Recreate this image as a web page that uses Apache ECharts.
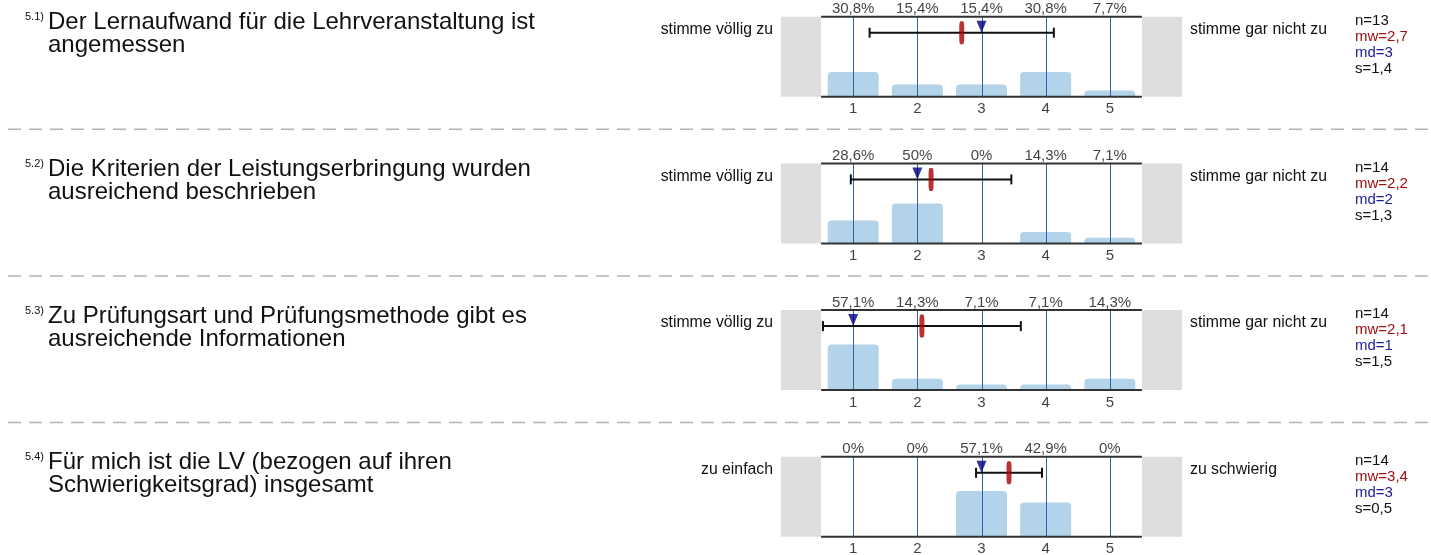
<!DOCTYPE html>
<html>
<head>
<meta charset="utf-8">
<script src="https://cdn.jsdelivr.net/npm/echarts@6/dist/echarts.min.js"></script>
<style>html,body{margin:0;padding:0;background:#fff}#c{width:1431px;height:555px}</style>
</head>
<body>
<div id="c"></div>
<script>
const categories = [1, 2, 3, 4, 5];
const questionNums = ['5.1)', '5.2)', '5.3)', '5.4)'];
const questionTexts = [
  'Der Lernaufwand für die Lehrveranstaltung ist\nangemessen',
  'Die Kriterien der Leistungserbringung wurden\nausreichend beschrieben',
  'Zu Prüfungsart und Prüfungsmethode gibt es\nausreichende Informationen',
  'Für mich ist die LV (bezogen auf ihren\nSchwierigkeitsgrad) insgesamt'
];
const leftLabels = ['stimme völlig zu', 'stimme völlig zu', 'stimme völlig zu', 'zu einfach'];
const rightLabels = ['stimme gar nicht zu', 'stimme gar nicht zu', 'stimme gar nicht zu', 'zu schwierig'];
const pct1 = [30.8, 15.4, 15.4, 30.8, 7.7];
const pct2 = [28.6, 50, 0, 14.3, 7.1];
const pct3 = [57.1, 14.3, 7.1, 7.1, 14.3];
const pct4 = [0, 0, 57.1, 42.9, 0];
const pctRows = [pct1, pct2, pct3, pct4];
const nVals = [13, 14, 14, 14];
const meanVals = [2.692, 2.214, 2.071, 3.429];
const mdVals = [3, 2, 1, 3];
const sdVals = [1.436, 1.251, 1.542, 0.514];

const FONT = '"Liberation Sans", Arial, Helvetica, sans-serif';
const ROW_TOP0 = 16.7, ROW_STEP = 146.7, ROW_H = 80;
const GRID_LEFT = 781, GRID_W = 401;
const X_MIN = -0.125, X_MAX = 6.125, P_MIN = 0.5, P_MAX = 5.5;
const ERR_Y = 80;

function fmt(v, d) {
  if (Number.isInteger(v)) return String(v);
  return v.toFixed(d).replace('.', ',');
}

const grids = [], xAxes = [], yAxes = [], series = [], graphics = [];

for (let r = 0; r < 4; r++) {
  const top = ROW_TOP0 + r * ROW_STEP;
  grids.push({ left: GRID_LEFT, top: top, width: GRID_W, height: ROW_H, show: false });
  xAxes.push({ type: 'value', gridIndex: r, min: X_MIN, max: X_MAX, show: false,
    splitLine: { show: false }, axisLine: { show: false }, axisTick: { show: false }, axisLabel: { show: false } });
  yAxes.push({ type: 'value', gridIndex: r, min: 0, max: 100, show: false,
    splitLine: { show: false }, axisLine: { show: false }, axisTick: { show: false }, axisLabel: { show: false } });

  // grey side boxes
  series.push({
    type: 'custom', xAxisIndex: r, yAxisIndex: r, silent: true, z: 1,
    data: [[X_MIN, P_MIN], [P_MAX, X_MAX]],
    renderItem: (params, api) => {
      const a = api.coord([api.value(0), 100]), b = api.coord([api.value(1), 0]);
      return { type: 'rect', shape: { x: a[0], y: a[1], width: b[0] - a[0], height: b[1] - a[1] },
        style: { fill: '#dedede' } };
    }
  });

  // bars
  series.push({
    type: 'bar', xAxisIndex: r, yAxisIndex: r, barWidth: 51, z: 2,
    itemStyle: { color: '#b3d3ea', borderRadius: [4, 4, 0, 0] },
    data: categories.map((c, i) => [c, pctRows[r][i]]),
    silent: true
  });

  // vertical category lines
  series.push({
    type: 'custom', xAxisIndex: r, yAxisIndex: r, silent: true, z: 3,
    data: categories.map(c => [c]),
    renderItem: (params, api) => {
      const a = api.coord([api.value(0), 100]), b = api.coord([api.value(0), 0]);
      const x = Math.round(a[0]) + 0.5;
      return { type: 'line', shape: { x1: x, y1: a[1], x2: x, y2: b[1] },
        style: { stroke: '#2f62a0', lineWidth: 1 } };
    }
  });

  // frame lines top & bottom
  series.push({
    type: 'custom', xAxisIndex: r, yAxisIndex: r, silent: true, z: 4,
    data: [[100], [0]],
    renderItem: (params, api) => {
      const a = api.coord([P_MIN, api.value(0)]), b = api.coord([P_MAX, api.value(0)]);
      return { type: 'line', shape: { x1: a[0], y1: a[1], x2: b[0], y2: b[1] },
        style: { stroke: '#333', lineWidth: 2 } };
    }
  });

  // percentage labels at top
  series.push({
    type: 'scatter', xAxisIndex: r, yAxisIndex: r, symbolSize: 0, silent: true,
    data: categories.map((c, i) => [c, 100, pctRows[r][i]]),
    label: {
      show: true, position: 'top', distance: 0, color: '#111', fontSize: 15, fontFamily: FONT,
      formatter: p => fmt(p.data[2], 1) + '%'
    }
  });
  // category tick labels at bottom
  series.push({
    type: 'scatter', xAxisIndex: r, yAxisIndex: r, symbolSize: 0, silent: true,
    data: categories.map(c => [c, 0]),
    label: {
      show: true, position: 'bottom', distance: 5, color: '#111', fontSize: 15, fontFamily: FONT,
      formatter: p => String(p.data[0])
    }
  });

  // error bar (mean ± s)
  series.push({
    type: 'custom', xAxisIndex: r, yAxisIndex: r, silent: true, z: 5,
    data: [[meanVals[r], sdVals[r]]],
    renderItem: (params, api) => {
      const m = api.value(0), s = api.value(1);
      const lo = Math.max(m - s, P_MIN), hi = Math.min(m + s, P_MAX);
      const a = api.coord([lo, ERR_Y]), b = api.coord([hi, ERR_Y]);
      const st = { stroke: '#111', lineWidth: 2 };
      return {
        type: 'group', children: [
          { type: 'line', shape: { x1: a[0], y1: a[1], x2: b[0], y2: b[1] }, style: st },
          { type: 'line', shape: { x1: a[0], y1: a[1] - 5, x2: a[0], y2: a[1] + 5 }, style: st },
          { type: 'line', shape: { x1: b[0], y1: b[1] - 5, x2: b[0], y2: b[1] + 5 }, style: st }
        ]
      };
    }
  });
  // median triangle
  series.push({
    type: 'scatter', xAxisIndex: r, yAxisIndex: r, silent: true, z: 6,
    symbol: 'path://M0,0 L10,0 L5,12 Z', symbolSize: [10, 12], symbolOffset: [0, -6],
    itemStyle: { color: '#000080' },
    data: [[mdVals[r], ERR_Y]]
  });
  // mean marker
  series.push({
    type: 'scatter', xAxisIndex: r, yAxisIndex: r, silent: true, z: 7,
    symbol: 'roundRect', symbolSize: [5, 23],
    itemStyle: { color: '#a80000' },
    data: [[meanVals[r], ERR_Y]]
  });

  // texts
  graphics.push({
    type: 'text', left: 25, top: top - 5,
    style: { text: questionNums[r], font: '11px ' + FONT, fill: '#111' }
  });
  graphics.push({
    type: 'text', left: 48, top: top - 6,
    style: { text: questionTexts[r], font: '24px ' + FONT, fill: '#111', lineHeight: 23 }
  });
  graphics.push({
    type: 'text', x: 773, y: top + 13,
    style: { text: leftLabels[r], font: '15.8px ' + FONT, fill: '#111', textAlign: 'right', textVerticalAlign: 'middle' }
  });
  graphics.push({
    type: 'text', x: 1190, y: top + 13,
    style: { text: rightLabels[r], font: '15.8px ' + FONT, fill: '#111', textAlign: 'left', textVerticalAlign: 'middle' }
  });
  graphics.push({
    type: 'text', left: 1355, top: top - 4,
    style: {
      text: '{n|n=' + nVals[r] + '}\n{m|mw=' + fmt(meanVals[r], 1) + '}\n{d|md=' + mdVals[r] + '}\n{s|s=' + fmt(sdVals[r], 1) + '}',
      font: '15px ' + FONT, lineHeight: 16,
      rich: {
        n: { fill: '#111', font: '15px ' + FONT, lineHeight: 16 },
        m: { fill: '#a01010', font: '15px ' + FONT, lineHeight: 16 },
        d: { fill: '#1c1c9c', font: '15px ' + FONT, lineHeight: 16 },
        s: { fill: '#111', font: '15px ' + FONT, lineHeight: 16 }
      }
    }
  });
  if (r < 3) {
    graphics.push({
      type: 'line', silent: true,
      shape: { x1: 8, y1: top + 112.5, x2: 1431, y2: top + 112.5 },
      style: { stroke: '#b4b4b4', lineWidth: 1.5, lineDash: [13, 8] }
    });
  }
}

const chart = echarts.init(document.getElementById('c'), null, { renderer: 'canvas' });
chart.setOption({
  animation: false,
  backgroundColor: '#fff',
  grid: grids, xAxis: xAxes, yAxis: yAxes, series: series, graphic: graphics
});
</script>
</body>
</html>
